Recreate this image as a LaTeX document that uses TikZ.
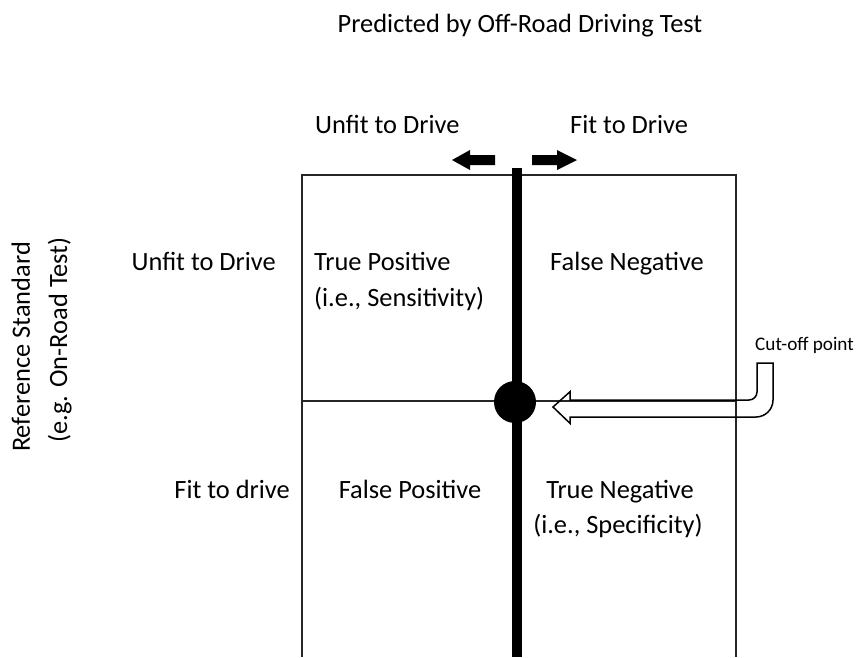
\documentclass[tikz,border=0pt]{standalone}
\usepackage{fontspec}
\setmainfont{Carlito}
\begin{document}
\begin{tikzpicture}[x=1pt,y=-1pt,
  txt/.style={inner sep=0pt, font=\fontsize{26.4}{35}\selectfont},
  smalltxt/.style={inner sep=0pt, font=\fontsize{19.2}{23}\selectfont},
  boxline/.style={draw=black!85, line width=1.2pt},
  cutline/.style={draw=black, line width=10pt},
  hollow/.style={draw=black, line width=1.5pt, line join=miter},
  solidarrow/.style={fill=black, draw=none}]
\useasboundingbox (0,0) rectangle (860,657);

% grid
\coordinate (tl) at (302,175);
\coordinate (tr) at (736,175);
\coordinate (bl) at (302,657);
\coordinate (br) at (736,657);
\coordinate (ml) at (302,401);
\coordinate (mr) at (736,401);
\draw[boxline] (bl) -- (tl) -- (tr) -- (br);
\draw[boxline] (ml) -- (mr);

% cut-off line and point
\coordinate (ctop) at (517,168);
\coordinate (cbot) at (517,657);
\draw[cutline] (ctop) -- (cbot);
\node[circle, fill=black, minimum size=42pt, inner sep=0pt] (pt) at (515,402) {};

% top direction arrows
\fill[solidarrow] (452,160) -- (470,150) -- (470,155) -- (495,155) -- (495,165) -- (470,165) -- (470,170) -- cycle;
\fill[solidarrow] (577,160) -- (557,150) -- (557,155) -- (532,155) -- (532,165) -- (557,165) -- (557,170) -- cycle;

% hollow bent arrow
\draw[hollow] (553,407) -- (570,391.7) -- (570,400) -- (749,400)
  .. controls (753.4,400) and (757,396.4) .. (757,392)
  -- (757,363) -- (773,363) -- (773,400)
  .. controls (773,409.4) and (765.4,417) .. (756,417)
  -- (570,417) -- (570,423.3) -- cycle;

% texts
\node[txt, anchor=base] (title) at (520,32) {Predicted by Off-Road Driving Test};
\node[txt, anchor=base west] (colu) at (315,133) {Unfit to Drive};
\node[txt, anchor=base west] (colf) at (570,133) {Fit to Drive};
\node[txt, anchor=base east] (rowu) at (276,270) {Unfit to Drive};
\node[txt, anchor=base east] (rowf) at (290,498) {Fit to drive};
\node[txt, anchor=base west] (tp1) at (314,270) {True Positive};
\node[txt, anchor=base west] (tp2) at (314,306) {(i.e., Sensitivity)};
\node[txt, anchor=base] (fn) at (627,270) {False Negative};
\node[txt, anchor=base] (fp) at (410,498) {False Positive};
\node[txt, anchor=base] (tn1) at (620,498) {True Negative};
\node[txt, anchor=base] (tn2) at (618,533) {(i.e., Specificity)};
\node[smalltxt, anchor=base west] (cut) at (755,350) {Cut-off point};
\node[txt, anchor=base, rotate=90] (ref1) at (30,347) {Reference Standard};
\node[txt, anchor=base, rotate=90] (ref2) at (67,340) {(e.g. On-Road Test)};
\end{tikzpicture}
\end{document}
